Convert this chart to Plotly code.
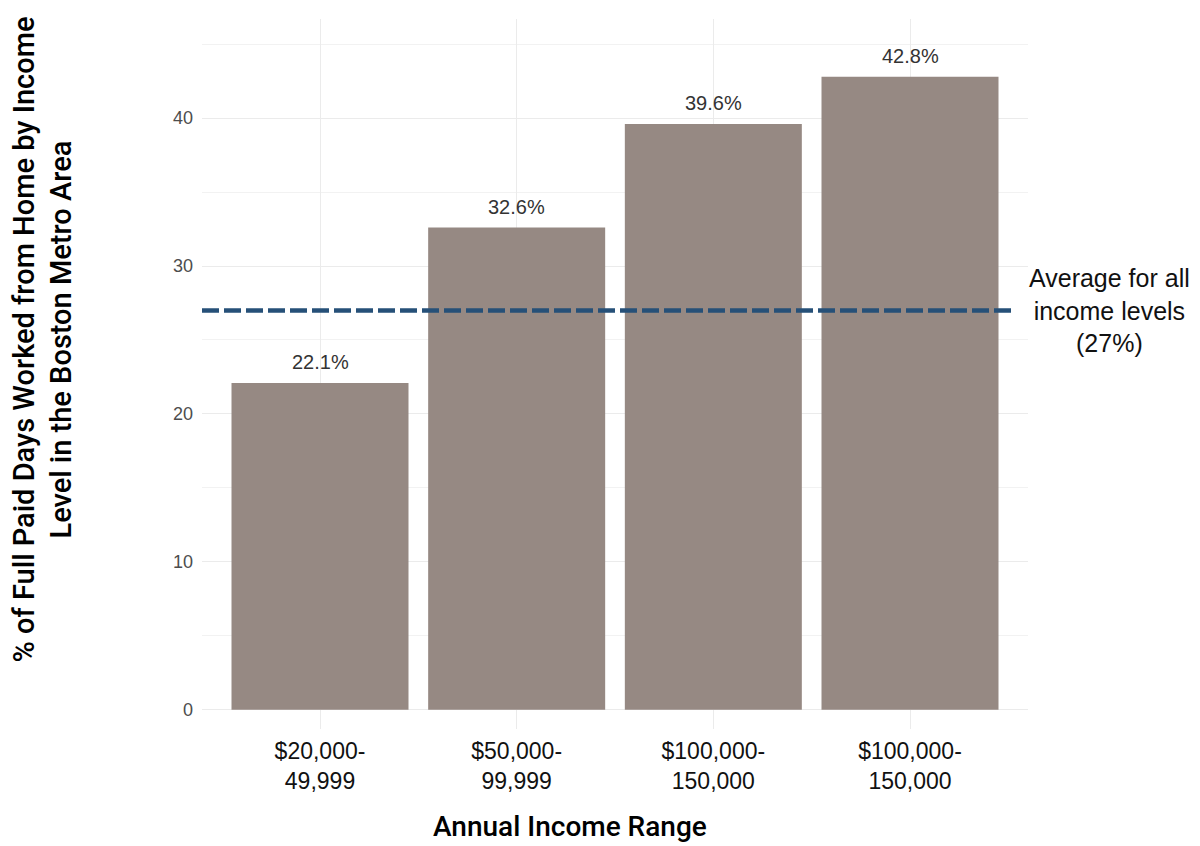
import plotly.graph_objects as go

# Share of full paid days worked from home, by annual income range
income_ranges = ["$20,000-<br>49,999", "$50,000-<br>99,999",
                 "$100,000-<br>150,000", "$100,000-<br>150,000"]
wfh_share = [22.1, 32.6, 39.6, 42.8]
overall_average = 27
y_ticks = [0, 10, 20, 30, 40]

positions = list(range(len(income_ranges)))

fig = go.Figure()
fig.add_trace(go.Bar(
    x=positions,
    y=wfh_share,
    width=0.9,
    marker=dict(color="#968983", line=dict(width=0)),
    hoverinfo="skip",
))

# Value labels above each bar
for xpos, val in zip(positions, wfh_share):
    fig.add_annotation(
        x=xpos, y=val, xref="x", yref="y",
        text=f"{val:.1f}%", showarrow=False,
        xanchor="center", yanchor="bottom", yshift=8,
        font=dict(family="Liberation Sans", size=20, color="#333333"),
    )

# Dashed reference line for the overall average
fig.add_shape(type="line", xref="paper", x0=0, x1=0.985,
              yref="y", y0=overall_average, y1=overall_average,
              line=dict(color="#265078", width=4.5, dash="17px,5px"))

fig.add_annotation(
    xref="paper", yref="y", x=1.099, y=overall_average,
    text="Average for all<br>income levels<br>(27%)",
    showarrow=False, align="center", xanchor="center", yanchor="middle",
    font=dict(family="Liberation Sans", size=25, color="#111111"),
)

# Axis titles
fig.add_annotation(
    xref="paper", yref="paper", x=-0.193, y=0.548,
    text="% of Full Paid Days Worked from Home by Income<br>Level in the Boston Metro Area",
    textangle=-90, showarrow=False, align="center",
    xanchor="center", yanchor="middle",
    font=dict(family="Roboto", size=29, color="#000000", weight=500),
)
fig.add_annotation(
    xref="paper", yref="paper", x=0.446, y=-0.137,
    text="Annual Income Range",
    showarrow=False, xanchor="center", yanchor="middle",
    font=dict(family="Roboto", size=28, color="#000000", weight=500),
)

fig.update_layout(
    width=1200, height=846,
    margin=dict(l=202, r=172, t=19, b=117),
    paper_bgcolor="white", plot_bgcolor="white",
    showlegend=False,
    xaxis=dict(
        range=[-0.6, 3.6],
        tickmode="array", tickvals=positions, ticktext=income_ranges,
        tickfont=dict(family="Liberation Sans", size=23, color="#111111"),
        showgrid=True, gridcolor="#ebebeb", gridwidth=1,
        zeroline=False, showline=False, ticks="",
        ticklabelstandoff=6,
    ),
    yaxis=dict(
        range=[-1.3, 46.7],
        tickmode="array", tickvals=y_ticks,
        tickfont=dict(family="Liberation Sans", size=18, color="#4d4d4d"),
        showgrid=True, gridcolor="#ebebeb", gridwidth=1,
        minor=dict(tickmode="array", tickvals=[5, 15, 25, 35, 45],
                   showgrid=True, gridcolor="#f2f2f2", gridwidth=1),
        zeroline=False, showline=False, ticks="",
        ticklabelstandoff=8,
    ),
)

fig.write_html("out.html")
